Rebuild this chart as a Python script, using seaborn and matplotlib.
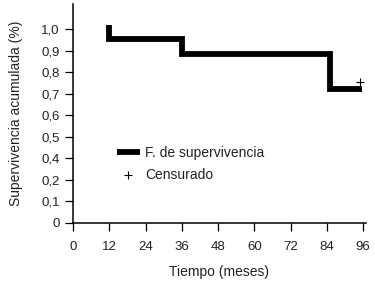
import numpy as np
import pandas as pd
import matplotlib
matplotlib.use("Agg")
import matplotlib.pyplot as plt
import seaborn as sns

# Data
step_time = [12, 12, 36, 85, 95.5]
step_surv = [1.02, 0.955, 0.883, 0.72, 0.72]
censor_time = [95]
censor_surv = [0.755]
x_ticks = [0, 12, 24, 36, 48, 60, 72, 84, 96]
y_tick_values = [0, 0.1, 0.2, 0.4, 0.5, 0.6, 0.7, 0.8, 0.9, 1.0]
y_tick_labels = ["0", "0,1", "0,2", "0,4", "0,5", "0,6", "0,7", "0,8", "0,9", "1,0"]

sns.set_style("ticks")
plt.rcParams['font.family'] = ['Liberation Sans', 'DejaVu Sans']
text_color = "#222222"

fig = plt.figure(figsize=(3.75, 2.81), dpi=100)
ax = fig.add_axes([0.195, 0.2075, 0.78, 0.7785])

# evenly spaced ticks as in the reference (non-linear labelled axis)
xp = np.array(y_tick_values + [2.0])
fp = np.array(list(range(len(y_tick_values))) + [19.0])
def fwd(v):
    return np.interp(v, xp, fp)
def inv(v):
    return np.interp(v, fp, xp)
ax.set_yscale('function', functions=(fwd, inv))

df = pd.DataFrame({"t": step_time, "s": step_surv})
sns.lineplot(data=df, x="t", y="s", ax=ax, sort=False, estimator=None,
             color="black", linewidth=4.2, drawstyle="steps-post",
             solid_capstyle="butt", solid_joinstyle="miter",
             label="F. de supervivencia")
cdf = pd.DataFrame({"t": censor_time, "s": censor_surv})
sns.scatterplot(data=cdf, x="t", y="s", ax=ax, marker="+", s=30,
                color="black", linewidth=0.8, label="Censurado")

ax.set_xlim(0, 96.8)
ax.set_ylim(0, 1.118)
ax.set_xticks(x_ticks)
ax.set_xticklabels([str(v) for v in x_ticks])
ax.set_yticks(y_tick_values)
ax.set_yticklabels(y_tick_labels)
ax.minorticks_off()

for s in ["top", "right"]:
    ax.spines[s].set_visible(False)
for s in ["left", "bottom"]:
    ax.spines[s].set_linewidth(1.1)
    ax.spines[s].set_color("black")
ax.tick_params(axis="y", length=5.5, width=0.9, pad=4, labelsize=9.5,
               labelcolor=text_color, color="black")
ax.tick_params(axis="x", length=5.5, width=0.9, pad=7.5, labelsize=9.5,
               labelcolor=text_color, color="black")

ax.set_xlabel("Tiempo (meses)", fontsize=10, color=text_color, labelpad=8.5)
ax.set_ylabel("Supervivencia acumulada (%)", fontsize=10, color=text_color, labelpad=13)

leg = ax.legend(loc="upper left", bbox_to_anchor=(0.13, 0.375), frameon=False,
                fontsize=10, handlelength=1.65, handletextpad=0.4,
                labelspacing=0.55, borderaxespad=0)
for t in leg.get_texts():
    t.set_color(text_color)

fig.savefig("out.png", dpi=100)
